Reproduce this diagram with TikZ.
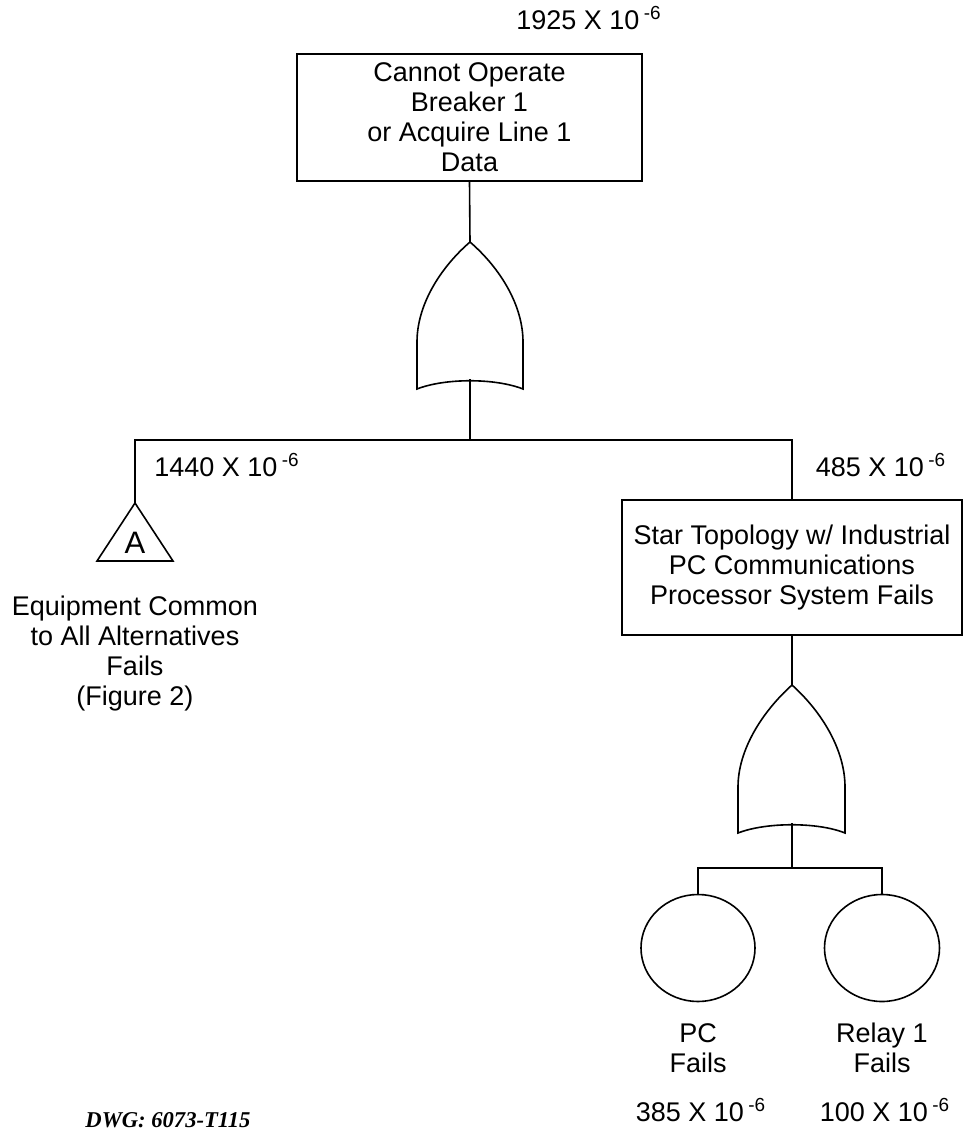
\documentclass[tikz,border=0pt]{standalone}
\usepackage{fontspec}
\setmainfont{Liberation Sans}
\newfontfamily\dwgfont{Liberation Serif}
\usetikzlibrary{shapes.geometric}
\begin{document}
\begin{tikzpicture}[x=0.5pt,y=-0.5pt,
  txt/.style={font=\fontsize{13.5}{15}\selectfont, inner sep=0pt, align=center},
  evbox/.style={draw, line width=0.8pt, inner sep=0pt},
  conn/.style={line width=0.8pt},
  gate/.style={draw, line width=0.8pt}]
\useasboundingbox (0,0) rectangle (964,1130);
\newcommand{\prob}[1]{#1 X 10\,\textsuperscript{-6}}

% top event
\node[txt] (p1) at (589,18) {\prob{1925}};
\node[evbox, minimum width=345*0.5pt, minimum height=127*0.5pt] (top) at (469.5,117.5) {};
\node[txt] at (top.center) {Cannot Operate\\Breaker 1\\or Acquire Line 1\\Data};

% gate 1
\coordinate (g1t) at (470,242);
\coordinate (g1b) at (470,379);
\draw[gate] (g1t) .. controls (440,268) and (417,305) .. (417,342) -- (417,389)
  .. controls (445,378) and (495,378) .. (523,389) -- (523,342)
  .. controls (523,305) and (500,268) .. (g1t);
\draw[conn] (top.south) -- (g1t);
\coordinate (bus1) at (470,440);
\draw[conn] (g1b) -- (bus1);

% left branch: transfer triangle
\coordinate (triA) at (135,503);
\coordinate (triL) at (97,561);
\coordinate (triR) at (173,561);
\draw[conn] (triA) -- (triL) -- (triR) -- cycle;
\node[txt, font=\fontsize{15.5}{17}\selectfont] (A) at (135,543) {A};
\node[txt] (p2) at (227,465) {\prob{1440}};
\node[txt] (eq) at (135,654) {Equipment Common\\to All Alternatives\\Fails\\(Figure 2)};

% right branch
\node[evbox, minimum width=340*0.5pt, minimum height=135*0.5pt] (star) at (792,567.5) {};
\node[txt] at (star.center) {Star Topology w/ Industrial\\PC Communications\\Processor System Fails};
\node[txt] (p3) at (881,465) {\prob{485}};

\draw[conn] (triA) |- (bus1) -| (star.north);

% gate 2
\coordinate (g2t) at (792,685);
\coordinate (g2b) at (792,823);
\draw[gate] (g2t) .. controls (762,712) and (738,750) .. (738,787) -- (738,833)
  .. controls (766,822) and (818,822) .. (845,833) -- (845,787)
  .. controls (845,750) and (822,712) .. (g2t);
\draw[conn] (star.south) -- (g2t);
\coordinate (bus2) at (792,868);
\draw[conn] (g2b) -- (bus2);

% basic events
\node[draw, line width=0.8pt, ellipse, minimum width=114*0.5pt, minimum height=107*0.5pt, inner sep=0pt] (pc) at (698,948) {};
\node[draw, line width=0.8pt, ellipse, minimum width=115*0.5pt, minimum height=107*0.5pt, inner sep=0pt] (relay) at (882,948) {};
\draw[conn] (pc.north) |- (bus2) -| (relay.north);

\node[txt] (pct) at (698,1048) {PC\\Fails};
\node[txt] (rlt) at (882,1048) {Relay 1\\Fails};
\node[txt] (p4) at (701,1110) {\prob{385}};
\node[txt] (p5) at (885,1110) {\prob{100}};

\node[inner sep=0pt, font=\dwgfont\fontsize{11.3}{13}\selectfont\bfseries\itshape] (dwg) at (168,1120) {DWG: 6073-T115};
\end{tikzpicture}
\end{document}
